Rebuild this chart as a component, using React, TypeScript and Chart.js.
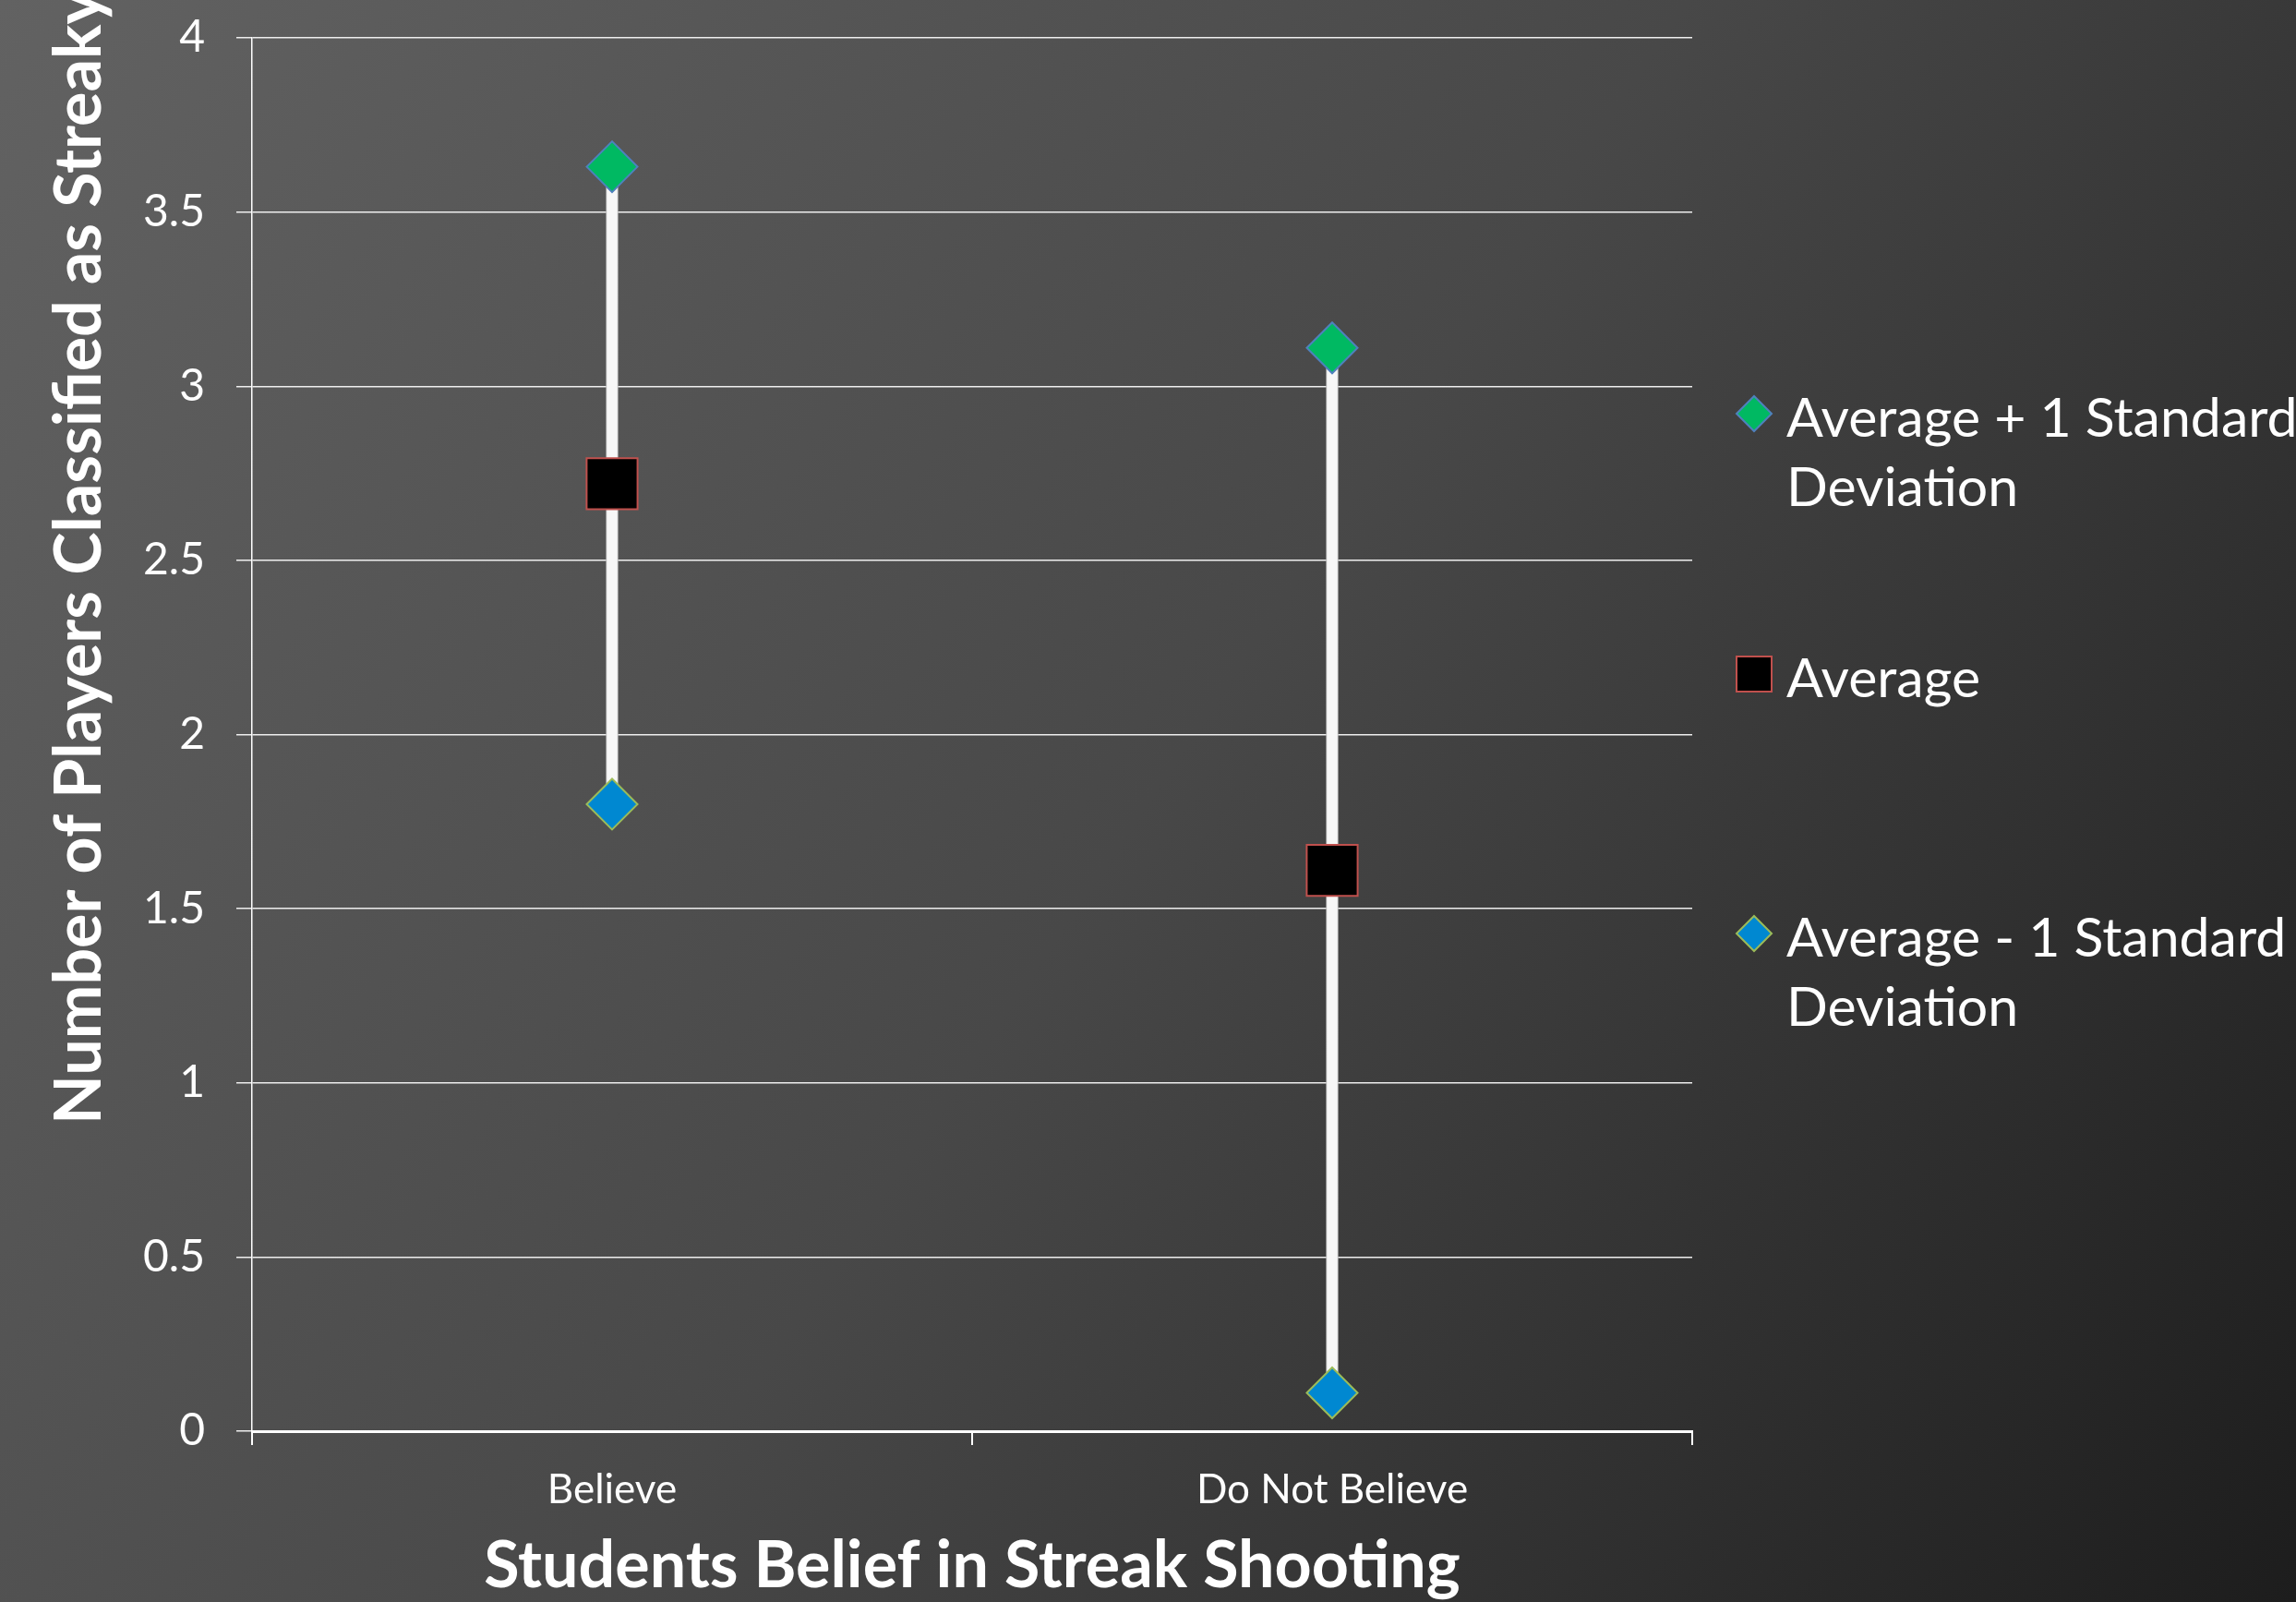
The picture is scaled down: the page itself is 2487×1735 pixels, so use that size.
import React, { useEffect, useRef } from 'react';
import { Chart, registerables } from 'chart.js';

Chart.register(...registerables);

// Belief groups on the x axis
const categories = ['Believe', 'Do Not Believe'];
// Mean number of players classified as streaky, and mean ± 1 SD
const averageValues = [2.72, 1.61];
const upperValues = [3.63, 3.11];
const lowerValues = [1.8, 0.11];
// Value axis
const yMin = 0;
const yMax = 4;
const yStep = 0.5;
// Series names, wrapped for the side legend
const upperLabel = ['Average + 1 Standard', 'Deviation'];
const averageLabel = ['Average'];
const lowerLabel = ['Average - 1 Standard', 'Deviation'];

const xTitle = 'Students Belief in Streak Shooting';
const yTitle = 'Number of Players Classified as Streaky';

const W = 2487;
const H = 1735;
const FONT = 'Lato, "Open Sans", sans-serif';

function drawMarker(ctx: CanvasRenderingContext2D, style: string, x: number, y: number, r: number, fill: string, stroke: string, lw: number) {
  ctx.save();
  ctx.beginPath();
  if (style === 'rectRot') {
    ctx.moveTo(x, y - r);
    ctx.lineTo(x + r, y);
    ctx.lineTo(x, y + r);
    ctx.lineTo(x - r, y);
    ctx.closePath();
  } else {
    ctx.rect(x - r, y - r, 2 * r, 2 * r);
  }
  ctx.fillStyle = fill;
  ctx.fill();
  ctx.lineWidth = lw;
  ctx.strokeStyle = stroke;
  ctx.stroke();
  ctx.restore();
}

// Rotated value-axis title, placed beside the tick labels
const yTitlePlugin = {
  id: 'yTitle',
  afterDraw(chart: any) {
    const { ctx, chartArea } = chart;
    ctx.save();
    ctx.translate(chartArea.left - 164, chartArea.bottom - 332);
    ctx.rotate(-Math.PI / 2);
    ctx.font = `bold 70px ${FONT}`;
    ctx.fillStyle = '#ffffff';
    ctx.textAlign = 'left';
    ctx.textBaseline = 'alphabetic';
    ctx.fillText(yTitle, 0, 0);
    ctx.restore();
  },
};

// Legend at the right, with wrapped labels
const sideLegendPlugin = {
  id: 'sideLegend',
  afterDraw(chart: any) {
    const { ctx, chartArea } = chart;
    const ds = chart.data.datasets;
    const markerX = chartArea.right + 67;
    const textX = chartArea.right + 102;
    const rows = [
      { d: ds[1], y: chartArea.top + 407, lines: upperLabel, style: 'rectRot', r: 19 },
      { d: ds[2], y: chartArea.top + 689, lines: averageLabel, style: 'rect', r: 19 },
      { d: ds[3], y: chartArea.top + 970, lines: lowerLabel, style: 'rectRot', r: 19 },
    ];
    ctx.save();
    ctx.font = `59px ${FONT}`;
    ctx.fillStyle = '#ffffff';
    ctx.textAlign = 'left';
    ctx.textBaseline = 'alphabetic';
    rows.forEach((row) => {
      drawMarker(ctx, row.style, markerX, row.y, row.r, row.d.pointBackgroundColor, row.d.pointBorderColor, 2);
      row.lines.forEach((line, i) => {
        ctx.fillStyle = '#ffffff';
        ctx.fillText(line, textX, row.y + 25 + i * 75);
      });
    });
    ctx.restore();
  },
};

export default function App() {
  const canvasRef = useRef<HTMLCanvasElement | null>(null);

  useEffect(() => {
    document.body.style.margin = '0';
    const canvas = canvasRef.current;
    if (!canvas) return;

    const chart = new Chart(canvas, {
      type: 'bar',
      data: {
        labels: categories,
        datasets: [
          {
            type: 'bar',
            label: 'Range',
            data: lowerValues.map((lo, i) => [lo, upperValues[i]]) as any,
            backgroundColor: '#f7f7f7',
            borderColor: '#b8b8b8',
            borderWidth: { left: 1, right: 1, top: 0, bottom: 0 } as any,
            borderSkipped: false,
            barThickness: 13,
            order: 3,
          },
          {
            type: 'line',
            label: upperLabel.join(' '),
            data: upperValues,
            showLine: false,
            pointStyle: 'rectRot',
            pointRadius: 27.5,
            pointBackgroundColor: '#00b962',
            pointBorderColor: '#4f81bd',
            pointBorderWidth: 2,
            order: 1,
          },
          {
            type: 'line',
            label: averageLabel.join(' '),
            data: averageValues,
            showLine: false,
            pointStyle: 'rect',
            pointRadius: 39,
            pointBackgroundColor: '#000000',
            pointBorderColor: '#c0504d',
            pointBorderWidth: 2,
            order: 0,
          },
          {
            type: 'line',
            label: lowerLabel.join(' '),
            data: lowerValues,
            showLine: false,
            pointStyle: 'rectRot',
            pointRadius: 27.5,
            pointBackgroundColor: '#0088d1',
            pointBorderColor: '#9bbb59',
            pointBorderWidth: 2,
            order: 1,
          },
        ] as any,
      },
      options: {
        responsive: false,
        animation: false,
        devicePixelRatio: 1,
        events: [],
        layout: { padding: { top: 38, right: 654, left: 0, bottom: 0 } },
        plugins: {
          legend: { display: false },
          tooltip: { enabled: false },
        },
        scales: {
          x: {
            type: 'category',
            offset: true,
            afterFit: (scale: any) => {
              scale.height = 185;
              scale.paddingLeft = 0;
              scale.paddingRight = 0;
            },
            grid: {
              display: true,
              offset: true,
              drawOnChartArea: false,
              drawTicks: true,
              tickLength: 15,
              color: '#ffffff',
              lineWidth: 2,
            },
            border: { display: true, color: '#ffffff', width: 3 },
            ticks: {
              color: '#ffffff',
              font: { family: FONT, size: 44 },
              padding: 22,
            },
            title: {
              display: true,
              text: xTitle,
              color: '#ffffff',
              font: { family: FONT, size: 70, weight: 'bold', lineHeight: 1.1 },
              padding: { top: 0, bottom: 0 },
            },
          },
          y: {
            type: 'linear',
            min: yMin,
            max: yMax,
            afterFit: (scale: any) => {
              scale.width = 273;
              scale.paddingTop = 0;
              scale.paddingBottom = 0;
            },
            grid: {
              color: '#eeeeee',
              lineWidth: 1.5,
              tickLength: 17,
              drawTicks: true,
            },
            border: { display: true, color: '#ffffff', width: 1.5 },
            ticks: {
              stepSize: yStep,
              color: '#ffffff',
              font: { family: FONT, size: 48 },
              padding: 34,
              callback: (value: any) => String(Number(value)),
            },
          },
        },
      },
      plugins: [yTitlePlugin, sideLegendPlugin],
    });

    return () => {
      chart.destroy();
    };
  }, []);

  return (
    <div
      style={{
        width: W,
        height: H,
        overflow: 'hidden',
        background: 'linear-gradient(124deg, #626262 0%, #484848 50%, #1d1d1d 100%)',
      }}
    >
      <canvas ref={canvasRef} width={W} height={H} style={{ width: W, height: H, display: 'block' }} />
    </div>
  );
}
